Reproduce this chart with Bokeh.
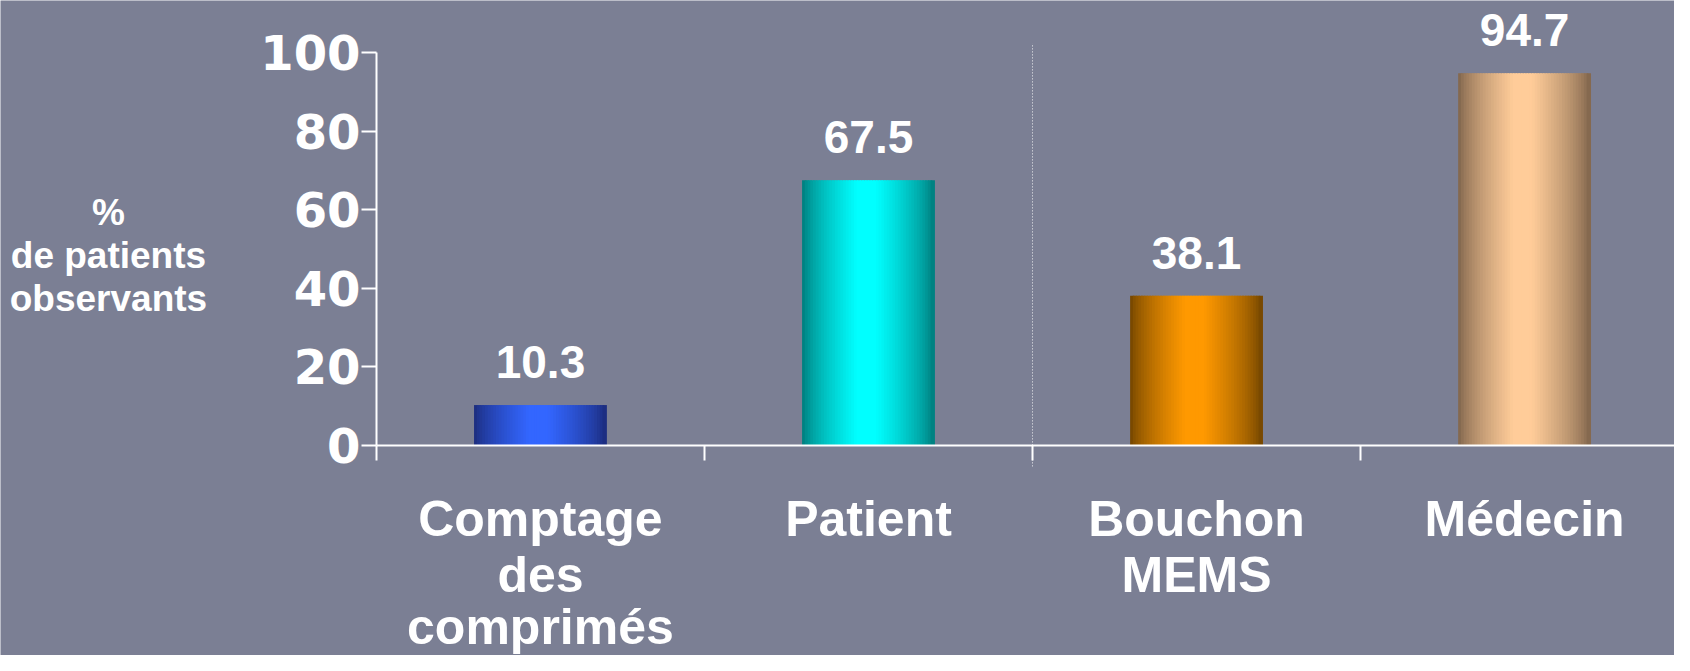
from bokeh.plotting import figure
from bokeh.models import FixedTicker, Range1d, LabelSet, Label, ColumnDataSource
from bokeh.core.properties import value
from bokeh.embed import file_html
from bokeh.resources import INLINE

# ---- data ----
categories = ["Comptage\ndes\ncomprimés", "Patient", "Bouchon\nMEMS", "Médecin"]
values = [10.3, 67.5, 38.1, 94.7]
value_labels = ["10.3", "67.5", "38.1", "94.7"]
y_ticks = [0, 20, 40, 60, 80, 100]
y_title = "%\nde patients\nobservants"
separator_before = "Bouchon\nMEMS"

# ---- styles ----
edge_colors = ["#1b2a78", "#007878", "#6e4300", "#7b6149"]
peak_colors = ["#3366ff", "#00ffff", "#ff9900", "#ffcc99"]
BG = "#7b7f94"
WHITE = "#ffffff"

n = len(categories)
p = figure(width=1674, height=655, output_backend="svg", toolbar_location=None,
           x_range=Range1d(-1.146, 3.957), y_range=Range1d(-53.4, 113.2),
           min_border_left=0, min_border_right=0, min_border_top=0,
           min_border_bottom=0)
p.background_fill_color = BG
p.border_fill_color = BG
p.outline_line_color = None
p.grid.visible = False


def hex2rgb(h):
    h = h.lstrip("#")
    return tuple(int(h[i:i + 2], 16) for i in (0, 2, 4))


def mix(a, b, t):
    ra, rb = hex2rgb(a), hex2rgb(b)
    return "#%02x%02x%02x" % tuple(int(round(x + (y - x) * t)) for x, y in zip(ra, rb))


# bars drawn as thin overlapping strips to imitate the horizontal shading
N = 48
bw = 0.4
xs, tops, cols = [], [], []
for i, (v, e, pk) in enumerate(zip(values, edge_colors, peak_colors)):
    c = i + 0.5
    for k in range(N):
        t = (k + 0.5) / N
        if t < 0.42:
            b = t / 0.42
        elif t < 0.56:
            b = 1.0
        else:
            b = (1 - t) / 0.44
        b = b ** 0.7
        xs.append(c - bw / 2 + t * bw)
        tops.append(v)
        cols.append(mix(e, pk, b))
p.vbar(x=xs, top=tops, bottom=0, width=bw / N * 1.6, fill_color=cols, line_color=None)

# dotted separator
sx = categories.index(separator_before)
p.segment(x0=[sx], y0=[-5.3], x1=[sx], y1=[102.3], line_color=WHITE, line_width=1,
          line_dash="1 2", line_alpha=0.9)

# y axis
ya = p.yaxis[0]
ya.fixed_location = 0
ya.ticker = FixedTicker(ticks=y_ticks, minor_ticks=[])
ya.bounds = (0, 100)
ya.axis_line_color = WHITE
ya.axis_line_width = 2
ya.major_tick_line_color = WHITE
ya.major_tick_line_width = 2
ya.major_tick_out = 15
ya.major_tick_in = 0
ya.minor_tick_line_color = None
ya.major_label_text_font = "DejaVu Sans"
ya.major_label_text_font_style = "bold"
ya.major_label_text_font_size = "48px"
ya.major_label_text_color = WHITE
ya.major_label_standoff = 1

# x axis: ticks at category boundaries
xa = p.xaxis[0]
xa.fixed_location = 0
xa.ticker = FixedTicker(ticks=[], minor_ticks=list(range(n + 1)))
xa.bounds = (0, n)
xa.axis_line_color = WHITE
xa.axis_line_width = 2
xa.major_tick_line_color = None
xa.minor_tick_line_color = WHITE
xa.minor_tick_line_width = 2
xa.minor_tick_out = 15
xa.minor_tick_in = 0
xa.major_label_text_font_size = "0px"

# category labels: one LabelSet per text line so every line is centred
line_offsets = [-73, -129, -181]
split = [c.split("\n") for c in categories]
for j, off in enumerate(line_offsets):
    xs_j = [i + 0.5 for i, parts in enumerate(split) if len(parts) > j]
    tx_j = [parts[j] for parts in split if len(parts) > j]
    if not xs_j:
        continue
    src = ColumnDataSource(dict(x=xs_j, text=tx_j))
    p.add_layout(LabelSet(x="x", y=0, y_offset=off, text="text", source=src,
                          text_align="center", text_baseline="middle",
                          text_font=value("Liberation Sans"), text_font_style="bold",
                          text_font_size="50px", text_color=WHITE))

# value labels
vsrc = ColumnDataSource(dict(x=[i + 0.5 for i in range(n)], y=values, text=value_labels))
p.add_layout(LabelSet(x="x", y="y", y_offset=27, text="text", source=vsrc,
                      text_align="center", text_baseline="alphabetic",
                      text_font=value("Liberation Sans"), text_font_style="bold",
                      text_font_size="46px", text_color=WHITE))

# y title
p.add_layout(Label(x=0, y=0, x_offset=-268, y_offset=190, text=y_title,
                   text_align="center", text_baseline="middle",
                   text_font="Liberation Sans", text_font_style="bold",
                   text_font_size="37px", text_color=WHITE, text_line_height=1.05))

open("out.html", "w").write(file_html(p, INLINE))
